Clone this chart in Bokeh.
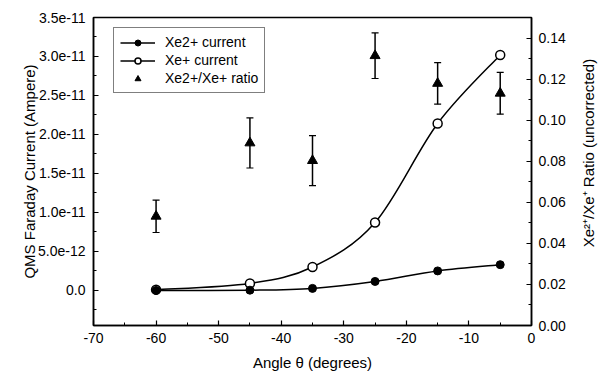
import math
from bokeh.plotting import figure
from bokeh.models import (Range1d, LinearAxis, FixedTicker, ColumnDataSource,
                          Whisker, TeeHead, Legend, LegendItem, Label)
from bokeh.embed import file_html
from bokeh.resources import INLINE

# ---- data ----
angle = [-60, -45, -35, -25, -15, -5]
xe2_current = [0.0, 0.03e-12, 0.26e-12, 1.15e-12, 2.5e-12, 3.3e-12]
xe_current = [0.1e-12, 0.9e-12, 3.0e-12, 8.7e-12, 21.4e-12, 30.2e-12]
ratio = [0.0532, 0.0889, 0.0803, 0.1314, 0.1179, 0.1131]
ratio_err = [0.0079, 0.0122, 0.0122, 0.0111, 0.0101, 0.0102]

x_ticks = [-70, -60, -50, -40, -30, -20, -10, 0]
x_labels = ["-70", "-60", "-50", "-40", "-30", "-20", "-10", "0"]
x_minor = [-65, -55, -45, -35, -25, -15, -5]
left_ticks = [0.0, 5e-12, 1e-11, 1.5e-11, 2e-11, 2.5e-11, 3e-11, 3.5e-11]
left_labels = ["0.0", "5.0e-12", "1.0e-11", "1.5e-11", "2.0e-11", "2.5e-11", "3.0e-11", "3.5e-11"]
left_minor = [-2.5e-12, 2.5e-12, 7.5e-12, 1.25e-11, 1.75e-11, 2.25e-11, 2.75e-11, 3.25e-11]
right_ticks = [0.0, 0.02, 0.04, 0.06, 0.08, 0.10, 0.12, 0.14]
right_labels = ["0.00", "0.02", "0.04", "0.06", "0.08", "0.10", "0.12", "0.14"]
right_minor = [0.01, 0.03, 0.05, 0.07, 0.09, 0.11, 0.13]

FONT = "Liberation Sans"


def smooth_segments(xs, ys):
    """Catmull-Rom spline through the data points, as cubic Bezier segments."""
    n = len(xs)
    seg = dict(x0=[], y0=[], x1=[], y1=[], cx0=[], cy0=[], cx1=[], cy1=[])
    for i in range(n - 1):
        a = max(i - 1, 0)
        b = min(i + 2, n - 1)
        seg["x0"].append(xs[i]); seg["y0"].append(ys[i])
        seg["x1"].append(xs[i + 1]); seg["y1"].append(ys[i + 1])
        seg["cx0"].append(xs[i] + (xs[i + 1] - xs[a]) / 6.0)
        seg["cy0"].append(ys[i] + (ys[i + 1] - ys[a]) / 6.0)
        seg["cx1"].append(xs[i + 1] - (xs[b] - xs[i]) / 6.0)
        seg["cy1"].append(ys[i + 1] - (ys[b] - ys[i]) / 6.0)
    return ColumnDataSource(seg)


p = figure(width=598, height=376, x_range=Range1d(-70, 0),
           y_range=Range1d(-4.5e-12, 3.5e-11),
           output_backend="svg", toolbar_location=None,
           min_border_left=93, min_border_right=67,
           min_border_top=17, min_border_bottom=51)
p.extra_y_ranges = {"ratio": Range1d(0, 0.15)}

p.xgrid.visible = False
p.ygrid.visible = False
p.outline_line_color = "black"
p.outline_line_width = 1.5
p.background_fill_color = "white"
p.border_fill_color = "white"


def style_axis(ax):
    ax.axis_line_color = "black"
    ax.axis_line_width = 1.5
    ax.major_tick_in = 5
    ax.major_tick_out = 0
    ax.minor_tick_in = 3
    ax.minor_tick_out = 0
    ax.major_tick_line_width = 1.2
    ax.minor_tick_line_width = 1.0
    ax.major_label_text_font = FONT
    ax.major_label_text_font_size = "14px"
    ax.major_label_text_color = "black"
    ax.axis_label_text_font = FONT
    ax.axis_label_text_font_size = "15px"
    ax.axis_label_text_font_style = "normal"
    ax.axis_label_text_color = "black"


xa = p.xaxis[0]
style_axis(xa)
xa.ticker = FixedTicker(ticks=x_ticks, minor_ticks=x_minor)
xa.major_label_overrides = {t: s for t, s in zip(x_ticks, x_labels)}
xa.axis_label = "Angle θ (degrees)"
xa.major_label_standoff = 7
xa.axis_label_standoff = 8

ya = p.yaxis[0]
style_axis(ya)
ya.ticker = FixedTicker(ticks=left_ticks, minor_ticks=left_minor)
ya.major_label_overrides = {t: s for t, s in zip(left_ticks, left_labels)}
ya.axis_label = "QMS Faraday Current (Ampere)"
ya.major_label_standoff = 8
ya.axis_label_standoff = -3

ra = LinearAxis(y_range_name="ratio")
style_axis(ra)
ra.ticker = FixedTicker(ticks=right_ticks, minor_ticks=right_minor)
ra.major_label_overrides = {t: s for t, s in zip(right_ticks, right_labels)}
ra.major_label_standoff = 7
p.add_layout(ra, "right")

# right axis title, reading bottom-to-top as in the reference
# (placed in the right side panel so that it is not clipped to the frame)
p.add_layout(Label(x=9.1, y=0.084, y_range_name="ratio",
                   text="Xe²⁺/Xe⁺ Ratio (uncorrected)", angle=math.pi / 2,
                   text_align="center", text_baseline="middle",
                   text_font=FONT, text_font_size="15px", text_color="black"),
             "right")

# smooth curves
bez_xe2 = p.bezier(source=smooth_segments(angle, xe2_current), x0="x0", y0="y0",
                   x1="x1", y1="y1", cx0="cx0", cy0="cy0", cx1="cx1", cy1="cy1",
                   line_color="black", line_width=1.5)
bez_xe = p.bezier(source=smooth_segments(angle, xe_current), x0="x0", y0="y0",
                  x1="x1", y1="y1", cx0="cx0", cy0="cy0", cx1="cx1", cy1="cy1",
                  line_color="black", line_width=1.5)

sc_xe = p.scatter(angle, xe_current, marker="circle", size=9,
                  fill_color="white", line_color="black", line_width=1.5)
sc_xe2 = p.scatter(angle, xe2_current, marker="circle", size=8,
                   fill_color="black", line_color="black", line_width=1)

# ratio with error bars
upper = [r + e for r, e in zip(ratio, ratio_err)]
lower = [r - e for r, e in zip(ratio, ratio_err)]
err_src = ColumnDataSource(dict(x=angle, upper=upper, lower=lower))
wh = Whisker(source=err_src, base="x", upper="upper", lower="lower",
             y_range_name="ratio", line_color="black", line_width=1.5,
             upper_head=TeeHead(size=7, line_color="black", line_width=1.2),
             lower_head=TeeHead(size=7, line_color="black", line_width=1.2))
p.add_layout(wh)
sc_ratio = p.scatter(angle, ratio, marker="triangle", size=10, y_range_name="ratio",
                     fill_color="black", line_color="black", line_width=1)

legend = Legend(items=[
    LegendItem(label="Xe2+ current", renderers=[bez_xe2, sc_xe2]),
    LegendItem(label="Xe+ current", renderers=[bez_xe, sc_xe]),
    LegendItem(label="Xe2+/Xe+ ratio", renderers=[sc_ratio]),
], location=(20, 232))
legend.label_text_font = FONT
legend.label_text_font_size = "14px"
legend.label_text_color = "black"
legend.border_line_color = "black"
legend.border_line_width = 1
legend.background_fill_alpha = 1
legend.padding = 6
legend.spacing = 2
legend.margin = 0
legend.glyph_width = 35
legend.glyph_height = 15
legend.label_height = 15
legend.label_standoff = 10
p.add_layout(legend)

open("out.html", "w").write(file_html(p, INLINE))
